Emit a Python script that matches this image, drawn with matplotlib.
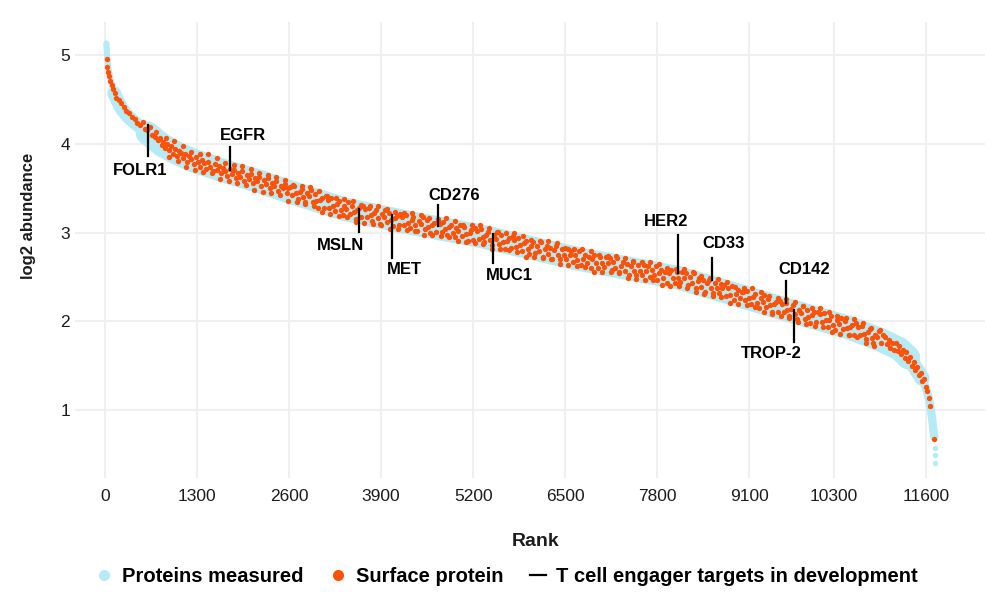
import numpy as np
import matplotlib
matplotlib.use("Agg")
import matplotlib.pyplot as plt
from matplotlib.lines import Line2D

plt.rcParams["font.family"] = ["Liberation Sans", "DejaVu Sans"]

# ranked log2 abundance of all measured proteins (centre of the band)
protein_rank = [20, 25, 30, 40, 55, 80, 105, 130, 180, 240, 320, 420, 600, 800, 1000,
                1250, 1700, 2200, 2600, 3400, 4300, 5300, 6700, 8100, 9000, 9500,
                10500, 10930, 11220, 11350, 11460, 11540]
protein_log2 = [5.13, 5.05, 4.98, 4.90, 4.82, 4.72, 4.64, 4.57, 4.48, 4.39, 4.31, 4.24,
                4.12, 3.99, 3.90, 3.81, 3.69, 3.57, 3.46, 3.26, 3.11, 2.96, 2.70, 2.49,
                2.28, 2.16, 1.93, 1.80, 1.69, 1.59, 1.46, 1.36]
tail_rank = [11460, 11540, 11600, 11640, 11670, 11695, 11712]
tail_log2 = [1.46, 1.36, 1.24, 1.12, 0.98, 0.82, 0.70]
tail_dot_rank = [11718, 11721, 11724]
tail_dot_log2 = [0.57, 0.49, 0.40]

# surface proteins (orange dots), core of the band
surface_rank_core = [
    25, 30, 40, 55, 75, 95, 115, 140, 160, 195, 230, 270, 300, 340, 380, 420, 450, 490,
    530, 565, 600, 630, 660, 700, 720, 750, 780, 810,
    820, 850, 880, 900, 930, 960, 990, 1010, 1040, 1080, 1100, 1130, 1160, 1190, 1220,
    1250, 1280, 1310, 1340, 1370, 1400, 1430, 1460, 1490, 1520, 1550, 1580, 1610, 1640,
    1670, 1700, 1730, 1760, 1790, 1820, 1850, 1880, 1910, 1940, 1970, 2000, 2030, 2060,
    2090, 2120, 2150, 2180, 2210, 2240, 2270, 2300, 2330, 2360, 2390, 2420, 2450, 2480,
    2510, 2540, 2570, 2590,
    2620, 2648, 2671, 2699, 2722, 2750, 2778, 2801, 2829, 2856, 2880, 2907, 2933, 2961,
    2986, 3012, 3040, 3064, 3093, 3118, 3145, 3170, 3198, 3224, 3249, 3276, 3302, 3330,
    3355, 3381, 3409, 3434, 3460, 3487, 3513, 3540, 3566, 3591, 3619, 3645, 3672, 3697,
    3725, 3751, 3777, 3803, 3830, 3856, 3882, 3909, 3935, 3961, 3988, 4014, 4041, 4067,
    4093, 4120, 4146, 4172, 4199, 4225, 4252, 4278, 4304, 4331, 4357, 4384, 4410, 4436,
    4463, 4489, 4516, 4542, 4568, 4595, 4621, 4648, 4674, 4700, 4727, 4753, 4780, 4806,
    4832, 4859, 4885, 4912, 4938, 4964, 4991, 5017, 5044, 5070, 5096, 5123, 5149, 5176,
    5202, 5228, 5255, 5281, 5308, 5334, 5360, 5387, 5413, 5440, 5466, 5492, 5519, 5545,
    5572, 5598, 5624, 5651, 5677, 5704, 5730, 5756, 5783, 5809, 5836, 5862, 5888, 5915,
    5941, 5968, 5994,
    6021, 6048, 6075, 6102, 6129, 6156, 6183, 6210, 6237, 6264, 6291, 6318, 6345, 6372,
    6399, 6426, 6453, 6480, 6507, 6534, 6561, 6588, 6615, 6642, 6669, 6696, 6723, 6750,
    6777, 6804, 6831, 6858, 6885, 6912, 6939, 6966, 6993, 7020, 7047, 7074, 7101, 7128,
    7155, 7182, 7209, 7236, 7263, 7290, 7317, 7344, 7371, 7398, 7425, 7452, 7479, 7506,
    7533, 7560, 7587, 7614, 7641, 7668, 7695, 7722, 7749, 7776, 7803, 7830, 7857, 7884,
    7911, 7938, 7965, 7992, 8019, 8046, 8073, 8100, 8127, 8154, 8181, 8208, 8235, 8262,
    8289, 8316, 8343, 8370, 8397, 8424, 8451, 8478, 8505, 8532, 8559, 8586, 8613, 8640,
    8667, 8694, 8721, 8748, 8775, 8802, 8829, 8856, 8883, 8910, 8937, 8964, 8991,
    9018, 9045, 9072, 9099, 9126, 9153, 9180, 9207, 9234, 9261, 9288, 9315, 9342, 9369,
    9396, 9423, 9450, 9477, 9504, 9531, 9558, 9585, 9612, 9639, 9666, 9693, 9720, 9747,
    9774, 9801, 9828, 9855, 9882, 9909, 9936, 9963, 9990, 10017, 10044, 10071, 10098,
    10125, 10152, 10179, 10206, 10233, 10260, 10287, 10314, 10341, 10368, 10395, 10422,
    10449, 10476, 10503, 10530, 10557, 10584, 10611, 10638, 10665, 10692, 10719, 10746,
    10773, 10800, 10827, 10854, 10881, 10908, 10935, 10962, 10989,
    11020, 11045, 11070, 11095, 11120, 11145, 11170, 11195, 11220, 11245, 11270, 11295,
    11320, 11345, 11370, 11395, 11420, 11445, 11470, 11495, 11520, 11545, 11570, 11590,
    11610, 11640, 11660, 11715,
]
surface_log2_core = [
    4.95, 4.87, 4.81, 4.76, 4.71, 4.66, 4.62, 4.57, 4.52, 4.49, 4.46, 4.42, 4.37, 4.35,
    4.30, 4.28, 4.23, 4.21, 4.24, 4.17, 4.15, 4.19, 4.10, 4.08, 4.13, 4.04, 4.07, 3.99,
    4.02, 3.95, 4.00, 3.93, 3.97, 3.88, 3.94, 3.86, 3.92, 3.90, 3.84, 3.89, 3.80, 3.86,
    3.83, 3.77, 3.85, 3.80, 3.74, 3.82, 3.78, 3.72, 3.80, 3.74, 3.69, 3.77, 3.71, 3.75,
    3.67, 3.73, 3.69, 3.64, 3.72, 3.66, 3.70, 3.61, 3.67, 3.63, 3.69, 3.58, 3.65, 3.60,
    3.66, 3.56, 3.62, 3.58, 3.63, 3.53, 3.59, 3.55, 3.61, 3.50, 3.56, 3.53, 3.58, 3.47,
    3.53, 3.50, 3.55, 3.45, 3.50,
    3.51, 3.42, 3.53, 3.44, 3.38, 3.46, 3.49, 3.40, 3.34, 3.44, 3.41, 3.48, 3.34, 3.43,
    3.35, 3.28, 3.37, 3.39, 3.28, 3.41, 3.37, 3.28, 3.39, 3.30, 3.24, 3.32, 3.35, 3.25,
    3.20, 3.30, 3.27, 3.34, 3.21, 3.30, 3.23, 3.15, 3.25, 3.28, 3.17, 3.30, 3.26, 3.18,
    3.28, 3.20, 3.13, 3.22, 3.25, 3.16, 3.10, 3.21, 3.18, 3.25, 3.12, 3.22, 3.14, 3.07,
    3.16, 3.19, 3.09, 3.21, 3.18, 3.09, 3.20, 3.11, 3.05, 3.14, 3.17, 3.08, 3.02, 3.13,
    3.10, 3.17, 3.04, 3.14, 3.06, 2.99, 3.09, 3.11, 3.01, 3.13, 3.10, 3.01, 3.12, 3.04,
    2.97, 3.06, 3.09, 3.00, 2.95, 3.05, 3.02, 3.09, 2.96, 3.06, 2.98, 2.91, 3.00, 3.03,
    2.92, 3.05, 3.02, 2.93, 3.04, 2.95, 2.89, 2.97, 3.01, 2.92, 2.86, 2.97, 2.93, 3.01,
    2.87, 2.97, 2.89, 2.82, 2.91, 2.94, 2.83, 2.96, 2.92, 2.84, 2.94, 2.86, 2.79, 2.88,
    2.91, 2.82, 2.76,
    2.85, 2.89, 2.77, 2.85, 2.79, 2.89, 2.73, 2.81, 2.85, 2.76, 2.83, 2.70, 2.80, 2.85,
    2.75, 2.70, 2.81, 2.75, 2.70, 2.81, 2.75, 2.79, 2.67, 2.75, 2.69, 2.79, 2.63, 2.70,
    2.75, 2.66, 2.73, 2.60, 2.70, 2.75, 2.66, 2.60, 2.72, 2.66, 2.61, 2.72, 2.66, 2.71,
    2.58, 2.67, 2.60, 2.71, 2.55, 2.62, 2.67, 2.57, 2.65, 2.52, 2.62, 2.67, 2.57, 2.52,
    2.63, 2.57, 2.52, 2.63, 2.57, 2.62, 2.50, 2.58, 2.52, 2.62, 2.46, 2.54, 2.58, 2.49,
    2.56, 2.43, 2.54, 2.58, 2.49, 2.43, 2.55, 2.49, 2.44, 2.55, 2.49, 2.54, 2.41, 2.50,
    2.43, 2.54, 2.37, 2.45, 2.49, 2.39, 2.47, 2.33, 2.43, 2.47, 2.38, 2.32, 2.43, 2.37,
    2.32, 2.42, 2.37, 2.41, 2.28, 2.37, 2.30, 2.40, 2.24, 2.31, 2.35, 2.26, 2.33,
    2.33, 2.24, 2.34, 2.26, 2.19, 2.27, 2.31, 2.21, 2.15, 2.26, 2.22, 2.30, 2.16, 2.25,
    2.18, 2.10, 2.19, 2.22, 2.11, 2.23, 2.20, 2.11, 2.21, 2.13, 2.06, 2.14, 2.18, 2.08,
    2.03, 2.13, 2.09, 2.17, 2.03, 2.13, 2.05, 1.98, 2.07, 2.10, 1.99, 2.11, 2.08,
    1.99, 2.09, 2.01, 1.94, 2.02, 2.06, 1.96, 1.90, 2.01, 1.97, 2.04, 1.91,
    2.00, 1.93, 1.85, 1.94, 1.96, 1.85, 1.98, 1.94, 1.85, 1.95, 1.86, 1.80,
    1.88, 1.91, 1.81, 1.75, 1.85, 1.82, 1.89, 1.75, 1.84,
    1.82, 1.74, 1.79, 1.70, 1.76, 1.68, 1.75, 1.66, 1.72, 1.63, 1.68, 1.59,
    1.65, 1.55, 1.60, 1.50, 1.54, 1.45, 1.49, 1.40, 1.42, 1.33, 1.35, 1.26,
    1.22, 1.14, 1.04, 0.67,
]

# surface proteins near the upper and lower edges of the band
surface_rank_edge = [
    860, 905, 980, 1025, 1100, 1145, 1220, 1265, 1340, 1385, 1460, 1505, 1580, 1625,
    1700, 1745, 1820, 1865, 1940, 1985, 2060, 2105, 2180, 2225, 2300, 2345, 2420, 2465,
    2540, 2585, 2660, 2705, 2780, 2825, 2900, 2945, 3020, 3065, 3140, 3185, 3260, 3305,
    3380, 3425, 3500, 3545, 3620, 3665, 3740, 3785, 3860, 3905, 3980, 4025, 4100, 4145,
    4220, 4265, 4340, 4385, 4460, 4505, 4580, 4625, 4700, 4745, 4820, 4865, 4940, 4985,
    5060, 5105, 5180, 5225, 5300, 5345, 5420, 5465, 5540, 5585, 5660, 5705, 5780, 5825,
    5900, 5945, 6020, 6065, 6140, 6185, 6260, 6305, 6380, 6425, 6500, 6545, 6620, 6665,
    6740, 6785, 6860, 6905, 6980, 7025, 7100, 7145, 7220, 7265, 7340, 7385, 7460, 7505,
    7580, 7625, 7700, 7745, 7820, 7865, 7940, 7985, 8060, 8105, 8180, 8225, 8300, 8345,
    8420, 8465, 8540, 8585, 8660, 8705, 8780, 8825, 8900, 8945, 9020, 9065, 9140, 9185,
    9260, 9305, 9380, 9425, 9500, 9545, 9620, 9665, 9740, 9785, 9860, 9905, 9980, 10025,
    10100, 10145, 10220, 10265, 10340, 10385, 10460, 10505, 10580, 10625, 10700, 10745,
    10820, 10865, 10940,
]
surface_log2_edge = [
    4.06, 3.85, 4.03, 3.81, 3.97, 3.74, 3.91, 3.71, 3.89, 3.68, 3.88, 3.67, 3.84, 3.60,
    3.78, 3.58, 3.76, 3.56, 3.75, 3.54, 3.72, 3.48, 3.67, 3.46, 3.65, 3.44, 3.63, 3.42,
    3.59, 3.35, 3.54, 3.34, 3.52, 3.32, 3.51, 3.30, 3.47, 3.23, 3.41, 3.21, 3.39, 3.19,
    3.38, 3.17, 3.35, 3.12, 3.31, 3.11, 3.30, 3.10, 3.30, 3.09, 3.27, 3.04, 3.23, 3.04,
    3.22, 3.03, 3.22, 3.02, 3.20, 2.97, 3.16, 2.97, 3.15, 2.96, 3.16, 2.95, 3.13, 2.90,
    3.09, 2.89, 3.08, 2.88, 3.08, 2.87, 3.05, 2.82, 3.01, 2.81, 3.00, 2.80, 2.99, 2.78,
    2.96, 2.73, 2.92, 2.72, 2.91, 2.71, 2.91, 2.70, 2.88, 2.65, 2.83, 2.63, 2.82, 2.62,
    2.81, 2.61, 2.79, 2.56, 2.75, 2.56, 2.74, 2.55, 2.74, 2.54, 2.71, 2.49, 2.68, 2.48,
    2.67, 2.47, 2.67, 2.46, 2.64, 2.41, 2.60, 2.40, 2.59, 2.40, 2.59, 2.38, 2.56, 2.33,
    2.51, 2.31, 2.49, 2.29, 2.48, 2.27, 2.44, 2.21, 2.39, 2.19, 2.38, 2.18, 2.37, 2.16,
    2.33, 2.10, 2.28, 2.08, 2.26, 2.06, 2.25, 2.04, 2.22, 1.99, 2.17, 1.97, 2.15, 1.95,
    2.15, 1.94, 2.11, 1.88, 2.06, 1.86, 2.04, 1.84, 2.03, 1.82, 1.98, 1.75,
    1.92, 1.72, 1.90,
]

# T cell engager targets: marker line and label position
target_names = ["FOLR1", "EGFR", "MSLN", "MET", "CD276", "MUC1", "HER2", "CD33", "CD142", "TROP-2"]
target_rank = [607, 1766, 3588, 4054, 4703, 5480, 8093, 8573, 9619, 9732]
line_top = [4.21, 3.96, 3.26, 3.20, 3.31, 2.98, 2.97, 2.71, 2.45, 2.13]
line_bottom = [3.86, 3.70, 3.01, 2.71, 3.07, 2.66, 2.54, 2.46, 2.21, 1.77]
label_rank = [494, 1949, 3333, 4223, 4929, 5706, 7924, 8743, 9873, 9407]
label_log2 = [3.70, 4.09, 2.85, 2.58, 3.42, 2.52, 3.13, 2.88, 2.58, 1.64]

x_ticks = [0, 1300, 2600, 3900, 5200, 6500, 7800, 9100, 10300, 11600]
y_ticks = [1, 2, 3, 4, 5]

BLUE = "#b6ebf5"
ORANGE = "#ff5206"
INK = "#1c1c1c"

fig = plt.figure(figsize=(9.88, 5.97), dpi=100)
ax = fig.add_axes([0.0759, 0.1993, 0.921, 0.7638])
ax.set_xlim(-424, 12429)
ax.set_ylim(0.234, 5.372)

ax.set_xticks(x_ticks)
ax.set_yticks(y_ticks)
ax.grid(True, color="#efefef", lw=1.5)
ax.set_axisbelow(True)
for s in ax.spines.values():
    s.set_visible(False)
ax.tick_params(length=0, labelsize=12.5, labelcolor=INK)
ax.tick_params(axis="x", pad=8)
ax.tick_params(axis="y", pad=3.5)

# blue band of all proteins: thin at the steep ends, wide in the body
band = dict(color=BLUE, solid_capstyle="round", solid_joinstyle="round", zorder=2)
ax.plot(protein_rank[:9], protein_log2[:9], lw=4.5, **band)
ax.plot(protein_rank[7:14], protein_log2[7:14], lw=10, **band)
ax.plot(protein_rank[12:30], protein_log2[12:30], lw=17, **band)
ax.plot(protein_rank[27:], protein_log2[27:], lw=11, **band)
ax.plot(tail_rank, tail_log2, lw=6, **band)
ax.scatter(tail_dot_rank, tail_dot_log2, s=16, color=BLUE, lw=0, zorder=2)

surface_rank = surface_rank_core + surface_rank_edge
surface_log2 = surface_log2_core + surface_log2_edge
ax.scatter(surface_rank, surface_log2, s=15, color=ORANGE, lw=0, zorder=3)

for name, r, t, b, lr, lv in zip(target_names, target_rank, line_top, line_bottom,
                                 label_rank, label_log2):
    ax.plot([r, r], [b, t], color="black", lw=1.6, zorder=4)
    ax.text(lr, lv, name, ha="center", va="center", fontsize=12, fontweight="bold",
            color="black", zorder=5)

fig.text(28 / 988, 1 - 216 / 597, "log2 abundance", rotation=90, ha="center", va="center",
         fontsize=12, fontweight="bold", color=INK)
fig.text(536 / 988, 1 - 541 / 597, "Rank", ha="center", va="center",
         fontsize=14, fontweight="bold", color=INK)

handles = [
    Line2D([0], [0], ls="none", marker="o", ms=7, mfc=BLUE, mec=BLUE),
    Line2D([0], [0], ls="none", marker="o", ms=7, mfc=ORANGE, mec=ORANGE),
    Line2D([0], [0], color="black", lw=1.6),
]
labels = ["Proteins measured", "Surface protein", "T cell engager targets in development"]
fig.legend(handles, labels, loc="lower center", bbox_to_anchor=(0.513, -0.012), ncol=3,
           frameon=False, handlelength=0.8, handletextpad=0.5, columnspacing=1.3,
           prop={"size": 14.5, "weight": "bold"})

fig.savefig("out.png", dpi=100)
